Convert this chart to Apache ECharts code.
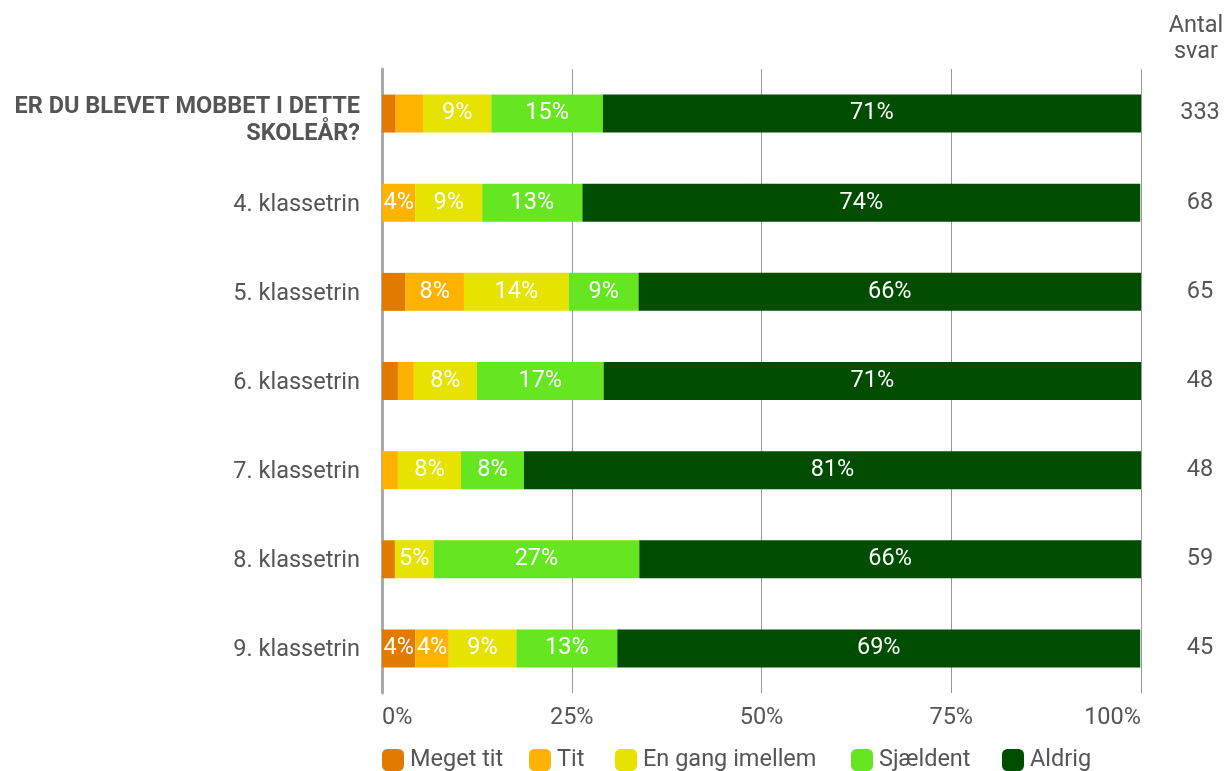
<!DOCTYPE html>
<html>
<head>
<meta charset="utf-8">
<script src="https://cdn.jsdelivr.net/npm/echarts@6/dist/echarts.min.js"></script>
<style>
html,body{margin:0;padding:0;background:#fff;}
#chart{width:1226px;height:771px;}
</style>
</head>
<body>
<div id="chart"></div>
<script>
//kategorier (første er hele spørgsmålet)
var categories=['ER DU BLEVET MOBBET I DETTE\nSKOLEÅR?','4. klassetrin','5. klassetrin','6. klassetrin','7. klassetrin','8. klassetrin','9. klassetrin'];
//antal svar pr. række
var antalSvar=['333','68','65','48','48','59','45'];
//andele i procent
var megetTit=[1.8,0,3.1,2.1,0,1.7,4.4];
var tit=[3.6,4.4,7.7,2.1,2.1,0,4.4];
var enGang=[9.0,8.8,13.8,8.3,8.3,5.1,8.9];
var sjaeldent=[14.7,13.2,9.2,16.7,8.3,27.1,13.3];
var aldrig=[70.9,73.5,66.2,70.8,81.3,66.1,68.9];
var xTicks=[0,25,50,75,100];

var seriesNames=['Meget tit','Tit','En gang imellem','Sjældent','Aldrig'];
var seriesData=[megetTit,tit,enGang,sjaeldent,aldrig];
var colors=['#e07b00','#ffb300','#e6e300','#66e620','#004d00'];
//legendens placering (x for hvert element)
var legendX=[382,529,615,851,1002];

var font='Roboto';
var txt='#555';
var fs=23.5;

var chart=echarts.init(document.getElementById('chart'));

var series=[];
var legends=[];
for(var i=0;i<seriesNames.length;i++){
	series.push({
		name:seriesNames[i],
		type:'bar',
		stack:'total',
		barWidth:38,
		yAxisIndex:0,
		data:seriesData[i],
		label:{
			show:true,
			position:'inside',
			color:'#fff',
			fontFamily:font,
			fontSize:fs,
			formatter:function(p){
				return p.value>=4?Math.round(p.value)+'%':'';
			}
		}
	});
	legends.push({
		left:legendX[i],
		top:748,
		padding:0,
		itemWidth:22,
		itemHeight:22,
		icon:'roundRect',
		textStyle:{fontFamily:font,fontSize:fs,color:txt,padding:[0,0,0,1]},
		data:[seriesNames[i]]
	});
}

var option={
	color:colors,
	animation:false,
	textStyle:{fontFamily:font},
	graphic:[{
		type:'text',
		x:1196,
		y:13,
		style:{
			text:'Antal\nsvar',
			align:'center',
			font:'normal '+fs+'px Roboto',
			fill:txt,
			lineHeight:26
		}
	}],
	legend:legends,
	grid:{left:382,right:85,top:69,bottom:78,containLabel:false},
	xAxis:{
		type:'value',
		min:0,
		max:100,
		interval:25,
		axisLine:{show:false},
		axisTick:{show:false},
		splitLine:{lineStyle:{color:'#999',width:1}},
		axisLabel:{
			fontFamily:font,fontSize:fs,color:txt,margin:13,
			alignMinLabel:'left',alignMaxLabel:'right',
			formatter:function(v){return xTicks.indexOf(v)>=0?v+'%':'';}
		}
	},
	yAxis:[{
		type:'category',
		inverse:true,
		data:categories,
		axisLine:{show:true,lineStyle:{color:'#aaa',width:3}},
		axisTick:{show:false},
		axisLabel:{
			margin:22,
			padding:[4,0,0,0],
			fontFamily:font,
			fontSize:fs,
			color:txt,
			formatter:function(v,idx){
				if(idx===0){
					return '{s| }\n'+v.split('\n').map(function(s){return '{b|'+s+'}';}).join('\n');
				}
				return v;
			},
			rich:{
				s:{fontSize:4,lineHeight:10},
				b:{fontFamily:font,fontWeight:'bold',fontSize:fs,color:txt,lineHeight:27,align:'right'}
			}
		}
	},{
		type:'category',
		inverse:true,
		position:'right',
		data:antalSvar,
		axisLine:{show:false},
		axisTick:{show:false},
		axisLabel:{margin:59,align:'center',padding:[4,0,0,0],fontFamily:font,fontSize:fs,color:txt}
	}],
	series:series
};
chart.setOption(option);
</script>
</body>
</html>
